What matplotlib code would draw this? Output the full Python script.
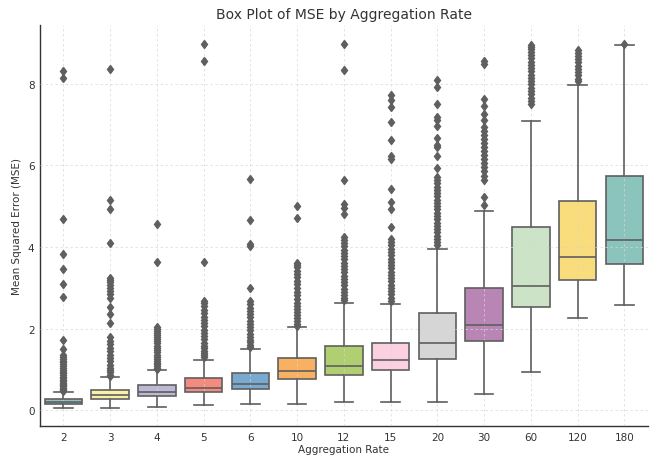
import matplotlib
matplotlib.use("Agg")
import matplotlib.pyplot as plt

rates = ["2", "3", "4", "5", "6", "10", "12", "15", "20", "30", "60", "120", "180"]

# five-number summaries of the MSE per aggregation rate
q1 = [0.15, 0.27, 0.35, 0.45, 0.52, 0.77, 0.86, 1.00, 1.27, 1.70, 2.53, 3.20, 3.59]
med = [0.22, 0.38, 0.45, 0.55, 0.645, 0.96, 1.09, 1.23, 1.64, 2.10, 3.04, 3.745, 4.17]
q3 = [0.285, 0.505, 0.63, 0.79, 0.92, 1.28, 1.58, 1.65, 2.38, 3.00, 4.48, 5.12, 5.73]
whislo = [0.065, 0.07, 0.08, 0.13, 0.155, 0.165, 0.22, 0.22, 0.22, 0.40, 0.945, 2.255, 2.59]
whishi = [0.45, 0.815, 0.99, 1.245, 1.505, 2.05, 2.64, 2.61, 3.96, 4.88, 7.09, 7.97, 8.94]

fliers = [
    [8.30, 8.14, 4.68, 3.84, 3.46, 3.09, 2.78, 1.72, 1.51, 1.35, 1.31, 1.27, 1.22,
     1.18, 1.13, 1.08, 1.04, 0.99, 0.95, 0.91, 0.87, 0.83, 0.79, 0.75, 0.72, 0.68,
     0.65, 0.62, 0.59, 0.56, 0.53, 0.50, 0.48],
    [8.36, 5.16, 4.93, 4.09, 3.25, 3.20, 3.15, 3.08, 3.00, 2.92, 2.84, 2.76, 2.54,
     2.35, 2.14, 1.79, 1.71, 1.62, 1.53, 1.45, 1.36, 1.28, 1.20, 1.12, 1.05, 0.99,
     0.93, 0.88, 0.84],
    [4.56, 3.64, 2.05, 2.00, 1.95, 1.90, 1.85, 1.80, 1.75, 1.70, 1.64, 1.58, 1.52,
     1.47, 1.42, 1.37, 1.32, 1.27, 1.22, 1.17, 1.13, 1.09, 1.05, 1.01],
    [8.97, 8.55, 3.64, 2.69, 2.63, 2.55, 2.47, 2.38, 2.30, 2.22, 2.14, 2.06, 1.98,
     1.90, 1.82, 1.74, 1.66, 1.59, 1.52, 1.46, 1.40, 1.35, 1.30],
    [5.67, 4.66, 4.07, 4.02, 2.99, 2.67, 2.60, 2.52, 2.44, 2.36, 2.28, 2.20, 2.12,
     2.04, 1.96, 1.88, 1.80, 1.73, 1.67, 1.61, 1.56],
    [5.00, 4.70, 3.62, 3.56, 3.50, 3.42, 3.34, 3.26, 3.18, 3.09, 3.00, 2.91, 2.82,
     2.73, 2.64, 2.56, 2.48, 2.40, 2.33, 2.26, 2.19, 2.12, 2.07],
    [8.98, 8.34, 5.63, 5.05, 4.95, 4.80, 4.25, 4.18, 4.10, 4.02, 3.94, 3.86, 3.78,
     3.70, 3.62, 3.54, 3.46, 3.38, 3.30, 3.22, 3.14, 3.06, 2.98, 2.90, 2.83, 2.76,
     2.70],
    [7.72, 7.60, 7.42, 7.07, 6.63, 6.22, 6.16, 5.43, 5.11, 4.92, 4.50, 4.20, 4.12,
     4.04, 3.96, 3.88, 3.80, 3.72, 3.64, 3.56, 3.48, 3.40, 3.32, 3.24, 3.16, 3.08,
     3.00, 2.92, 2.84, 2.76, 2.68],
    [8.08, 7.92, 7.49, 7.19, 7.12, 6.96, 6.66, 6.51, 6.46, 6.24, 5.94, 5.72, 5.64,
     5.56, 5.48, 5.40, 5.32, 5.24, 5.16, 5.08, 5.00, 4.92, 4.84, 4.76, 4.68, 4.60,
     4.52, 4.44, 4.36, 4.28, 4.20, 4.12, 4.04],
    [8.56, 8.47, 7.63, 7.45, 7.25, 7.10, 6.95, 6.85, 6.75, 6.65, 6.55, 6.45, 6.35,
     6.25, 6.15, 6.05, 5.95, 5.85, 5.75, 5.65, 5.23, 5.02],
    [8.95, 8.90, 8.84, 8.78, 8.70, 8.62, 8.54, 8.46, 8.38, 8.30, 8.22, 8.14, 8.06,
     7.98, 7.90, 7.82, 7.74, 7.66, 7.58, 7.50],
    [8.82, 8.75, 8.68, 8.60, 8.52, 8.44, 8.36, 8.28, 8.20, 8.12, 8.06],
    [8.97],
]

# muted Set3-like fills, one per rate
colors = ["#8ac4bc", "#fbf0a8", "#bcb8d6", "#f58a7e", "#78a9d0", "#f8b062", "#b0cf70",
          "#fbd0e0", "#d6d6d6", "#b885b5", "#cde3c8", "#f9dc7c", "#8ac4bd"]

stats = []
for i in range(len(rates)):
    stats.append(dict(label=rates[i], q1=q1[i], med=med[i], q3=q3[i],
                      whislo=whislo[i], whishi=whishi[i], fliers=fliers[i]))

line_gray = "#5f5f5f"
lw = 1.2

fig = plt.figure(figsize=(6.61, 4.60), dpi=100)
ax = fig.add_axes([0.0605, 0.0717, 0.9195, 0.8713])

bp = ax.bxp(stats, positions=range(len(rates)), widths=0.8, patch_artist=True,
            boxprops=dict(edgecolor=line_gray, linewidth=lw),
            medianprops=dict(color=line_gray, linewidth=lw),
            whiskerprops=dict(color=line_gray, linewidth=lw),
            capprops=dict(color=line_gray, linewidth=lw),
            flierprops=dict(marker="d", markersize=4.3, markerfacecolor=line_gray,
                            markeredgecolor=line_gray, linestyle="none"),
            capwidths=0.4)
for patch, c in zip(bp["boxes"], colors):
    patch.set_facecolor(c)
    patch.set_zorder(2)
# whiskers, caps, medians and fliers stay above the grid
for key in ["whiskers", "caps", "medians", "fliers"]:
    for line in bp[key]:
        line.set_zorder(3)

ax.set_xlim(-0.5, len(rates) - 0.5)
ax.set_ylim(-0.38, 9.43)
ax.set_yticks([0, 2, 4, 6, 8])
ax.set_xticks(range(len(rates)))
ax.set_xticklabels(rates)

# light dashed grid, drawn over the box fills
ax.set_axisbelow(False)
ax.grid(True, linestyle=(0, (3, 3)), color="#d6d6d6", linewidth=0.6, alpha=0.8)
for side in ["top", "right"]:
    ax.spines[side].set_visible(False)
for side in ["left", "bottom"]:
    ax.spines[side].set_color("#333333")
    ax.spines[side].set_linewidth(1.0)
ax.tick_params(length=0, pad=4, labelsize=7.5, colors="#333333")

ax.set_title("Box Plot of MSE by Aggregation Rate", fontsize=10, color="#333333", pad=5)
ax.set_xlabel("Aggregation Rate", fontsize=7.5, color="#333333", labelpad=2)
ax.set_ylabel("Mean Squared Error (MSE)", fontsize=7.5, color="#333333", labelpad=4)

fig.savefig("out.png", dpi=100)
